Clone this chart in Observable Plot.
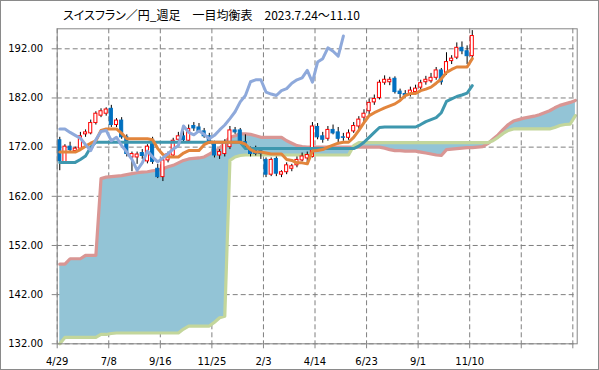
<!DOCTYPE html>
<html><head><meta charset="utf-8">
<script src="https://cdn.jsdelivr.net/npm/d3@7"></script>
<script src="https://cdn.jsdelivr.net/npm/@observablehq/plot@0.6"></script>
<style>
body{margin:0;background:#fff;}
#wrap{position:relative;width:599px;height:370px;overflow:hidden;background:#fff;}
#frame{position:absolute;left:0;top:0;width:599px;height:370px;box-sizing:border-box;border:1px solid #8a8a8a;pointer-events:none;}
#title{position:absolute;left:63px;top:8px;font-family:"Noto Sans CJK JP";font-size:12px;line-height:14px;font-feature-settings:"palt";color:#000;white-space:pre;}
#chart{position:absolute;left:0;top:0;}
</style></head><body>
<div id="wrap"><div id="chart"></div><div id="title">スイスフラン／円_週足　一目均衡表　2023.7.24〜11.10</div><div id="frame"></div></div>
<script>
// tick labels (every 10 weeks)
const dateLabels = ["4/29","7/8","9/16","11/25","2/3","4/14","6/23","9/1","11/10","",""];
const yTicks = [132,142,152,162,172,182,192];

// weekly candles (index 0 = 4/29)
const open  = [173.4,168.9,172.1,171.2,171.7,174.6,174.8,176.9,178.4,178.8,179.8,176.5,177.4,174.0,169.9,169.9,170.8,169.1,173.5,167.6,165.9,169.3,170.3,173.5,174.2,173.3,176.3,176.0,175.2,174.2,172.7,170.3,170.6,172.0,175.4,175.4,173.0,171.2,171.2,171.2,169.4,166.4,169.6,166.4,166.9,167.6,168.3,169.3,169.7,170.0,176.1,174.2,173.7,175.5,175.0,174.0,173.9,175.2,176.2,178.0,179.3,181.1,182.0,185.1,185.2,185.9,183.3,182.8,182.8,183.2,184.1,185.2,185.4,186.1,187.6,187.1,189.5,190.2,192.2,191.5,190.5];
const high  = [174.0,172.5,173.0,172.0,175.0,175.5,177.5,179.2,179.8,180.0,180.5,177.8,178.0,174.5,171.0,171.0,171.5,172.5,174.0,168.5,169.8,171.0,173.8,175.0,175.2,176.5,177.0,176.8,175.8,174.8,173.2,171.5,173.5,176.2,176.0,175.8,174.5,172.0,172.2,171.8,169.8,169.8,170.0,167.2,168.8,168.5,170.0,170.8,171.0,177.0,176.8,175.0,176.2,176.5,176.0,174.8,175.5,177.0,178.2,179.6,181.8,182.6,185.6,186.5,186.2,186.3,183.8,183.5,184.2,184.6,185.6,186.4,187.0,188.2,188.0,191.2,190.6,193.2,193.4,192.6,195.7];
const low   = [167.2,168.5,171.0,170.8,171.3,174.0,174.5,176.5,178.0,178.3,176.0,176.0,173.6,170.0,167.0,168.5,169.5,168.6,168.5,165.6,165.0,168.8,169.8,173.0,172.8,173.0,175.2,174.8,173.8,172.6,169.8,169.5,170.0,171.5,174.6,172.6,171.8,170.0,170.2,169.5,165.8,166.0,166.0,165.8,166.4,167.0,167.8,169.0,168.5,169.8,173.5,172.8,173.2,174.5,172.5,173.2,173.4,174.8,175.5,176.8,178.5,180.5,181.6,184.6,184.5,182.8,181.8,182.0,182.2,182.8,183.6,184.6,185.0,185.6,184.6,186.6,188.8,189.8,190.8,188.8,190.0];
const close = [169.1,172.1,171.4,171.7,174.2,175.0,176.9,178.8,179.3,179.65,176.5,177.4,174.0,170.6,170.6,170.5,170.2,172.1,169.0,165.9,169.3,170.6,173.3,174.2,173.4,175.7,175.8,175.2,174.2,173.0,170.3,171.0,173.0,175.4,175.0,173.0,172.3,170.6,170.6,170.6,166.4,169.4,166.6,166.9,168.3,168.1,169.4,170.1,170.4,176.2,174.0,173.5,175.5,174.8,173.7,173.9,174.8,176.3,177.6,178.8,181.0,181.8,185.1,185.7,185.7,183.2,182.8,182.5,183.5,183.9,185.0,185.7,186.1,187.6,185.2,189.3,190.0,192.2,191.5,190.5,194.6];

// ichimoku lines
const tenkan = [171.0,171.0,171.0,171.0,171.5,172.2,172.8,173.3,175.4,175.7,175.7,175.7,174.8,173.7,173.7,173.7,173.7,173.7,173.5,171.7,170.5,170.0,170.0,170.0,170.8,171.3,171.3,171.3,172.5,173.0,173.0,173.0,173.0,173.0,173.0,173.0,172.6,171.5,171.0,171.0,170.8,170.6,170.6,170.6,169.5,169.3,168.8,168.8,168.6,171.2,171.3,171.5,172.0,172.4,172.8,173.0,173.0,174.0,175.4,177.0,178.4,179.0,179.5,180.0,180.4,180.8,181.5,182.5,182.9,182.9,183.5,183.8,184.2,185.0,185.9,187.2,187.8,188.3,188.3,188.3,190.0];
const kijun  = [168.9,168.9,168.9,168.9,169.5,170.2,172.0,173.0,173.0,173.0,173.0,173.0,173.0,173.0,173.0,173.0,173.0,173.0,173.0,173.0,173.0,173.0,173.0,173.0,173.0,173.0,173.0,173.0,173.0,173.0,173.0,173.0,173.0,173.0,173.0,173.0,171.7,171.7,171.7,171.7,171.7,171.7,171.7,171.7,171.7,171.7,171.7,171.7,171.7,171.7,171.7,171.7,171.7,171.7,171.7,171.7,171.7,171.7,172.2,173.0,174.0,175.0,176.0,176.1,176.1,176.1,176.1,176.1,176.1,176.1,176.6,177.2,177.6,178.0,179.0,181.3,181.8,182.3,182.6,183.0,184.5];
const chikou = [175.7,175.7,175.0,174.4,173.8,172.5,171.3,173.5,175.2,175.4,173.3,174.0,172.3,171.0,169.5,167.3,168.8,171.2,170.0,169.0,169.8,170.7,171.6,172.3,176.3,175.0,174.5,175.3,174.6,173.7,174.4,175.5,176.5,177.8,179.2,181.2,182.5,185.3,185.7,185.7,183.2,182.8,182.5,183.5,183.9,185.0,185.7,186.1,187.6,185.2,189.3,190.0,192.2,191.5,190.5,194.6];
const spanA  = [148.2,148.2,149.3,149.3,149.3,150.0,150.0,150.0,165.6,165.9,166.0,166.1,166.2,166.4,166.6,166.8,166.9,167.0,167.2,167.3,167.6,168.0,168.3,168.8,169.3,169.6,169.7,169.8,170.0,170.6,171.2,171.7,173.0,174.0,174.3,174.7,174.7,174.6,174.3,174.0,174.0,174.0,174.0,174.0,173.3,172.8,172.3,172.1,172.0,172.0,172.0,172.0,172.0,172.0,172.0,172.0,172.0,172.0,172.0,172.0,172.0,172.0,172.0,171.8,171.5,171.3,171.3,171.2,171.2,171.2,171.0,170.8,170.6,170.4,170.3,171.5,171.6,171.7,171.8,171.9,171.9,172.0,172.1,172.7,173.6,174.5,175.6,176.6,177.3,177.6,177.9,178.1,178.3,178.6,179.0,179.4,180.0,180.5,180.8,181.1,181.5];
const spanB  = [132.0,133.3,133.3,133.3,133.3,133.3,133.3,133.3,133.9,133.9,134.1,134.2,134.2,134.2,134.2,134.2,134.2,134.2,134.2,134.2,134.2,134.2,134.2,134.2,135.0,135.6,135.6,135.6,135.6,135.6,136.4,137.3,137.6,169.3,170.0,170.3,170.4,170.4,170.4,170.4,170.4,170.4,170.4,170.4,170.4,170.4,170.4,170.4,170.4,170.4,170.4,170.4,170.4,170.4,170.4,170.4,170.4,172.3,172.9,172.9,172.9,172.9,172.9,172.9,172.9,172.9,172.9,172.9,172.9,172.9,172.9,172.9,172.9,172.9,172.9,172.9,172.9,172.9,172.9,172.9,172.9,172.9,172.9,172.9,173.3,174.0,174.8,175.4,175.7,175.7,175.7,175.7,175.7,175.7,175.7,175.7,176.0,176.4,176.6,176.7,178.4];

const candles = close.map((c, i) => ({i, o: open[i], h: high[i], l: low[i], c}));
const cloud = spanA.map((a, i) => ({i, a, b: spanB[i]}));
const line = (arr) => arr.map((v, i) => ({i, v}));
const xTicks = dateLabels.map((_, k) => k * 10);
const X = d => d.i + 0.5;
const lineOpts = (color, w) => ({x: X, y: "v", stroke: color, strokeWidth: w, strokeLinejoin: "round", strokeLinecap: "round"});

const chart = Plot.plot({
  width: 599, height: 370,
  marginLeft: 56.7, marginRight: 22.3, marginTop: 28.3, marginBottom: 26.7,
  style: {fontFamily: "DejaVu Sans", fontSize: "10px", color: "#000", background: "transparent"},
  x: {type: "linear", domain: [0, 100.85]},
  y: {domain: [132, 196.07]},
  marks: [
    Plot.gridY(yTicks, {stroke: "#7f7f7f", strokeOpacity: 1, strokeDasharray: "5,3"}),
    Plot.gridX(xTicks, {stroke: "#7f7f7f", strokeOpacity: 1, strokeDasharray: "5,3"}),
    Plot.areaY(cloud, {x: X, y1: "a", y2: "b", fill: "#93C4D6", curve: "linear"}),
    Plot.line(line(spanA), lineOpts("#D99694", 3.2)),
    Plot.line(line(spanB), lineOpts("#C3D69B", 3.2)),
    Plot.ruleX(candles, {x: X, y1: "l", y2: "h", stroke: "#000", strokeWidth: 1}),
    Plot.rect(candles, {x1: d => d.i + 0.2, x2: d => d.i + 0.8, y1: "o", y2: "c",
      fill: d => d.c >= d.o ? "#fff" : "#0070C0", stroke: d => d.c >= d.o ? "#FF0000" : "#0070C0", strokeWidth: 1}),
    Plot.line(line(kijun), lineOpts("#3E97AE", 3)),
    Plot.line(line(tenkan), lineOpts("#E2853C", 3)),
    Plot.line(line(chikou), lineOpts("#8EA9DB", 3)),
    Plot.frame({stroke: "#868686"}),
    Plot.axisY({ticks: yTicks, tickFormat: d3.format(".2f"), tickSize: 5, tickPadding: 9, stroke: "#868686"}),
    Plot.axisX({ticks: xTicks, tickFormat: (d) => dateLabels[d / 10], tickSize: 5, tickPadding: 9, stroke: "#868686"})
  ]
});
document.getElementById("chart").appendChild(chart);
</script>
</body></html>
